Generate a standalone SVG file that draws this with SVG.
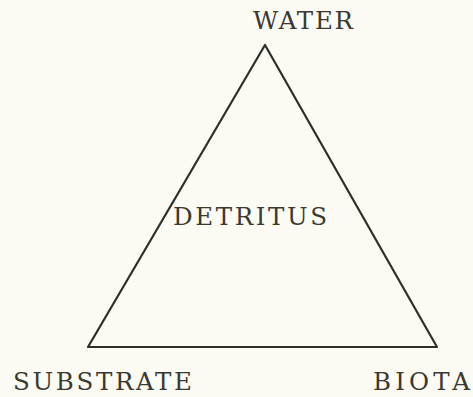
<svg xmlns="http://www.w3.org/2000/svg" width="473" height="397" viewBox="0 0 473 397">
<style>
.lbl{font-family:"DejaVu Serif","Liberation Serif",serif;font-size:24.5px;fill:#3a3a32}
.edge{fill:none;stroke:#2e2e2a;stroke-width:2.2;stroke-linejoin:round}
</style>
<rect width="473" height="397" fill="#fcfcf5"/>
<g id="connectors">
<path class="edge" d="M265,45 L88,347 L437,347 Z"/>
</g>
<g id="water"><text class="lbl" x="253" y="29" textLength="100" lengthAdjust="spacing">WATER</text></g>
<g id="detritus"><text class="lbl" x="173" y="225" textLength="154" lengthAdjust="spacing">DETRITUS</text></g>
<g id="substrate"><text class="lbl" x="13" y="390" textLength="179" lengthAdjust="spacing">SUBSTRATE</text></g>
<g id="biota"><text class="lbl" x="373" y="390" textLength="97" lengthAdjust="spacing">BIOTA</text></g>
</svg>
